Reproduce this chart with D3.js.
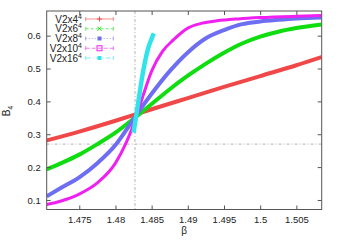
<!DOCTYPE html>
<html>
<head>
<meta charset="utf-8">
<script src="https://cdn.jsdelivr.net/npm/d3@7"></script>
<style>
  body { margin: 0; background: #fff; }
  svg { display: block; }
  text { font-family: "Liberation Sans", Arial, sans-serif; fill: #222; }
</style>
</head>
<body>
<svg id="chart" width="344" height="241"></svg>
<script>
        // Data
        const betaL4 = [1.4705, 1.475, 1.48, 1.485, 1.49, 1.495, 1.5, 1.505, 1.5085];
        const b4L4 = [0.281, 0.308, 0.341, 0.376, 0.410, 0.444, 0.477, 0.510, 0.535];

        const betaL6 = [1.4705, 1.4725, 1.475, 1.4775, 1.48, 1.4825, 1.485, 1.4875, 1.49, 1.4925, 1.495, 1.4975, 1.5, 1.5025, 1.505, 1.5085];
        const b4L6 = [0.193, 0.212, 0.238, 0.270, 0.305, 0.347, 0.392, 0.437, 0.478, 0.515, 0.548, 0.576, 0.597, 0.612, 0.623, 0.634];

        const betaL8 = [1.4705, 1.4725, 1.475, 1.4775, 1.48, 1.4815, 1.483, 1.485, 1.4875, 1.49, 1.4925, 1.495, 1.4975, 1.5, 1.5025, 1.505, 1.5085];
        const b4L8 = [0.111, 0.137, 0.169, 0.212, 0.267, 0.313, 0.362, 0.423, 0.492, 0.549, 0.592, 0.617, 0.635, 0.643, 0.648, 0.652, 0.655];

        const betaL10 = [1.4705, 1.4725, 1.475, 1.4775, 1.48, 1.4815, 1.483, 1.4838, 1.485, 1.4865, 1.488, 1.49, 1.492, 1.494, 1.497, 1.5, 1.505, 1.5085];
        const b4L10 = [0.086, 0.097, 0.118, 0.152, 0.212, 0.275, 0.361, 0.416, 0.492, 0.552, 0.587, 0.623, 0.638, 0.645, 0.651, 0.655, 0.659, 0.661];

        const betaL16 = [1.4825, 1.4827, 1.4829, 1.4831, 1.4833, 1.4836, 1.484, 1.4845, 1.485, 1.4853];
        const b4L16 = [0.305, 0.333, 0.361, 0.390, 0.420, 0.462, 0.512, 0.560, 0.591, 0.607];

        const seriesNames = ['V2x4', 'V2x6', 'V2x8', 'V2x10', 'V2x16'];
        const xTicks = [1.475, 1.48, 1.485, 1.49, 1.495, 1.5, 1.505];
        const xTickLabels = ['1.475', '1.48', '1.485', '1.49', '1.495', '1.5', '1.505'];
        const yTicks = [0.1, 0.2, 0.3, 0.4, 0.5, 0.6];
        const yTickLabels = ['0.1', '0.2', '0.3', '0.4', '0.5', '0.6'];
        const betaCross = 1.4827;
        const b4Guide = 0.27;

        const series = [
            { name: seriesNames[0], beta: betaL4, b4: b4L4, color: '#f04848', width: 4, marker: 'plus', dash: null },
            { name: seriesNames[1], beta: betaL6, b4: b4L6, color: '#10dd10', width: 4, marker: 'cross', dash: '3,2' },
            { name: seriesNames[2], beta: betaL8, b4: b4L8, color: '#6e6ef2', width: 4, marker: 'fsq', dash: '1,2' },
            { name: seriesNames[3], beta: betaL10, b4: b4L10, color: '#f020f0', width: 3, marker: 'osq', dash: '4,2' },
            { name: seriesNames[4], beta: betaL16, b4: b4L16, color: '#30e4ec', width: 4.5, marker: 'fsq2', dash: '5,2,1,2' }
        ];

        const svg = d3.select('#chart');
        const pLeft = 46.7, pRight = 321.7, pTop = 11, pBottom = 209.5;
        const x = d3.scaleLinear().domain([1.4705, 1.5085]).range([pLeft, pRight]);
        const y = d3.scaleLinear().domain([0.071, 0.675]).range([pBottom, pTop]);

        svg.append('clipPath').attr('id', 'clip')
            .append('rect').attr('x', pLeft).attr('y', pTop).attr('width', pRight - pLeft).attr('height', pBottom - pTop);

        // guide lines
        svg.append('line').attr('x1', x(betaCross)).attr('x2', x(betaCross)).attr('y1', pTop).attr('y2', pBottom)
            .attr('stroke', '#b4b4b4').attr('stroke-dasharray', '3,2,1,2');
        svg.append('line').attr('x1', pLeft).attr('x2', pRight).attr('y1', y(b4Guide)).attr('y2', y(b4Guide))
            .attr('stroke', '#b4b4b4').attr('stroke-dasharray', '3,2,1,2');

        // curves
        const line = d3.line().x(d => x(d[0])).y(d => y(d[1])).curve(d3.curveMonotoneX);
        const g = svg.append('g').attr('clip-path', 'url(#clip)');
        series.forEach(s => {
            g.append('path').datum(s.beta.map((b, i) => [b, s.b4[i]]))
                .attr('d', line).attr('fill', 'none')
                .attr('stroke', s.color).attr('stroke-width', s.width)
                .attr('stroke-linejoin', 'round');
        });

        // axes (ticks inward on all sides)
        const tickColor = '#555';
        const ax = svg.append('g').attr('transform', `translate(0,${pBottom})`)
            .call(d3.axisBottom(x).tickValues(xTicks).tickFormat((d, i) => xTickLabels[i]).tickSizeInner(-4).tickSizeOuter(0).tickPadding(7));
        const ay = svg.append('g').attr('transform', `translate(${pLeft},0)`)
            .call(d3.axisLeft(y).tickValues(yTicks).tickFormat((d, i) => yTickLabels[i]).tickSizeInner(-4).tickSizeOuter(0).tickPadding(6));
        const at = svg.append('g').attr('transform', `translate(0,${pTop})`)
            .call(d3.axisTop(x).tickValues(xTicks).tickFormat('').tickSizeInner(-4).tickSizeOuter(0));
        const ar = svg.append('g').attr('transform', `translate(${pRight},0)`)
            .call(d3.axisRight(y).tickValues(yTicks).tickFormat('').tickSizeInner(-4).tickSizeOuter(0));
        [ax, ay, at, ar].forEach(a => {
            a.select('.domain').remove();
            a.selectAll('line').attr('stroke', tickColor);
            a.selectAll('text').style('font-size', '9.5px').attr('fill', '#222')
                .style('font-family', '"Liberation Sans", Arial, sans-serif');
        });

        svg.append('rect').attr('x', pLeft).attr('y', pTop).attr('width', pRight - pLeft).attr('height', pBottom - pTop)
            .attr('fill', 'none').attr('stroke', tickColor).attr('stroke-width', 1);

        // axis titles
        svg.append('text').attr('x', (pLeft + pRight) / 2).attr('y', 234).attr('text-anchor', 'middle')
            .style('font-size', '10px').text('β');
        const yl = svg.append('text').attr('transform', 'translate(10,111) rotate(-90)')
            .attr('text-anchor', 'middle').style('font-size', '10px');
        yl.append('tspan').text('B');
        yl.append('tspan').attr('dy', 3).style('font-size', '7px').text('4');

        // legend
        const lx1 = 85.7, lx2 = 113.3, lxm = (lx1 + lx2) / 2;
        series.forEach((s, i) => {
            const ly = 19 + i * 9.75;
            const t = svg.append('text').attr('x', 82).attr('y', ly + 3.5).attr('text-anchor', 'end')
                .style('font-size', '10px');
            t.append('tspan').text(s.name);
            t.append('tspan').attr('dy', -4).style('font-size', '7px').text('4');
            const lg = svg.append('g').attr('stroke', s.color).attr('stroke-opacity', 0.6).attr('fill', 'none');
            lg.append('line').attr('x1', lx1).attr('x2', lx2).attr('y1', ly).attr('y2', ly)
                .attr('stroke-dasharray', s.dash);
            [lx1, lx2].forEach(ex => lg.append('line').attr('x1', ex).attr('x2', ex).attr('y1', ly - 2).attr('y2', ly + 2));
            if (s.marker === 'plus') {
                lg.append('path').attr('d', `M${lxm - 2.5},${ly}H${lxm + 2.5}M${lxm},${ly - 2.5}V${ly + 2.5}`).attr('stroke-opacity', 1);
            } else if (s.marker === 'cross') {
                lg.append('path').attr('d', `M${lxm - 2},${ly - 2}L${lxm + 2},${ly + 2}M${lxm - 2},${ly + 2}L${lxm + 2},${ly - 2}`).attr('stroke-opacity', 1);
            } else if (s.marker === 'osq') {
                lg.append('rect').attr('x', lxm - 2.5).attr('y', ly - 2.5).attr('width', 5).attr('height', 5).attr('stroke-opacity', 1);
            } else {
                lg.append('rect').attr('x', lxm - 2).attr('y', ly - 2).attr('width', 4).attr('height', 4)
                    .attr('fill', s.color).attr('stroke', 'none');
            }
        });
</script>
</body>
</html>
